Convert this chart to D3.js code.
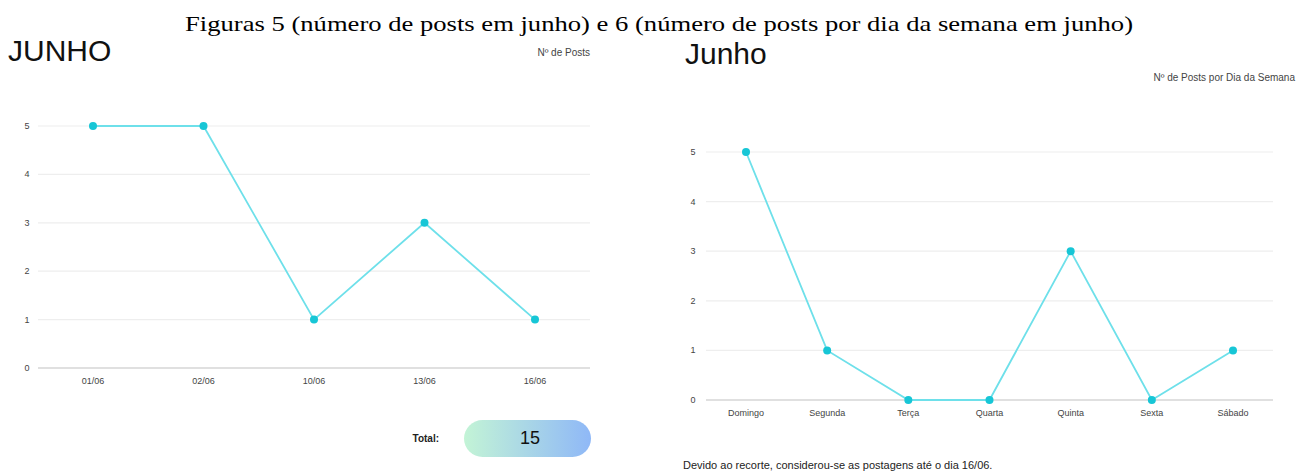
<!DOCTYPE html>
<html lang="pt">
<head>
<meta charset="utf-8">
<title>Posts em junho</title>
<script src="https://cdn.jsdelivr.net/npm/d3@7"></script>
<style>
  body { margin: 0; background: #fff; }
  .sans { font-family: "Liberation Sans", Arial, sans-serif; }
  .serif { font-family: "Liberation Serif", "Times New Roman", Times, serif; }
</style>
</head>
<body>
<script>
// data
var dates = ["01/06", "02/06", "10/06", "13/06", "16/06"];
var postsPerDate = [5, 5, 1, 3, 1];
var weekdays = ["Domingo", "Segunda", "Terça", "Quarta", "Quinta", "Sexta", "Sábado"];
var postsPerWeekday = [5, 1, 0, 0, 3, 0, 1];
var yTicks = [0, 1, 2, 3, 4, 5];
var total = 15;

var W = 1301, H = 474;
var lineColor = "#6ee0ea", dotColor = "#17c6d6";

var svg = d3.select("body").append("svg")
  .attr("width", W).attr("height", H);

// gradient for the total pill
var grad = svg.append("defs").append("linearGradient")
  .attr("id", "pill").attr("x1", "0%").attr("x2", "100%");
grad.append("stop").attr("offset", "0%").attr("stop-color", "#c3f4d6");
grad.append("stop").attr("offset", "100%").attr("stop-color", "#8fb8f7");

svg.append("text")
  .attr("class", "serif")
  .attr("x", 185).attr("y", 31)
  .attr("textLength", 948).attr("lengthAdjust", "spacingAndGlyphs")
  .style("font-size", "21px").attr("fill", "#000")
  .text("Figuras 5 (número de posts em junho) e 6 (número de posts por dia da semana em junho)");

function drawChart(cfg) {
  var g = svg.append("g").attr("class", "sans");
  var x = d3.scalePoint().domain(cfg.cats).range(cfg.xr);
  var y = d3.scaleLinear().domain([0, 5]).range(cfg.yr);

  // grid
  g.selectAll(".grid").data(yTicks).enter().append("line")
    .attr("x1", cfg.gx[0]).attr("x2", cfg.gx[1])
    .attr("y1", function(d) { return y(d); })
    .attr("y2", function(d) { return y(d); })
    .attr("stroke", function(d) { return d === 0 ? "#d6d6d6" : "#eeeeee"; })
    .attr("stroke-width", function(d) { return d === 0 ? 1.5 : 1.2; });

  g.selectAll(".ylab").data(yTicks).enter().append("text")
    .attr("x", cfg.ylx).attr("y", function(d) { return y(d) + 3; })
    .attr("text-anchor", "middle")
    .style("font-size", "9px").attr("fill", "#444")
    .text(function(d) { return d; });

  g.selectAll(".xlab").data(cfg.cats).enter().append("text")
    .attr("x", function(d) { return x(d); })
    .attr("y", y(0) + 16)
    .attr("text-anchor", "middle")
    .style("font-size", "9px").attr("fill", "#444")
    .text(function(d) { return d; });

  var pts = cfg.cats.map(function(c, i) { return [x(c), y(cfg.vals[i])]; });
  g.append("path")
    .attr("d", d3.line()(pts))
    .attr("fill", "none").attr("stroke", lineColor).attr("stroke-width", 1.8);

  g.selectAll("circle").data(pts).enter().append("circle")
    .attr("cx", function(d) { return d[0]; })
    .attr("cy", function(d) { return d[1]; })
    .attr("r", 4).attr("fill", dotColor);

  g.append("text")
    .attr("x", cfg.title[0]).attr("y", cfg.title[1])
    .style("font-size", "30px").attr("fill", "#111")
    .text(cfg.titleText);

  g.append("text")
    .attr("x", cfg.sub[0]).attr("y", cfg.sub[1])
    .attr("text-anchor", "end")
    .style("font-size", "10px").attr("fill", "#444")
    .text(cfg.subText);
}

drawChart({
  cats: dates, vals: postsPerDate,
  xr: [93, 535], yr: [368, 126], gx: [38, 590], ylx: 27,
  title: [8, 61], titleText: "JUNHO",
  sub: [590, 56], subText: "Nº de Posts"
});

drawChart({
  cats: weekdays, vals: postsPerWeekday,
  xr: [746, 1233], yr: [400, 152], gx: [706, 1273], ylx: 693,
  title: [685, 64], titleText: "Junho",
  sub: [1295, 81], subText: "Nº de Posts por Dia da Semana"
});

// total pill
var foot = svg.append("g").attr("class", "sans");
foot.append("text")
  .attr("x", 439).attr("y", 442).attr("text-anchor", "end")
  .style("font-size", "10px").style("font-weight", "bold").attr("fill", "#222")
  .text("Total:");
foot.append("rect")
  .attr("x", 464).attr("y", 420).attr("width", 127).attr("height", 37)
  .attr("rx", 18.5).attr("fill", "url(#pill)");
foot.append("text")
  .attr("x", 530).attr("y", 444).attr("text-anchor", "middle")
  .style("font-size", "18px").attr("fill", "#111")
  .text(total);

foot.append("text")
  .attr("x", 683).attr("y", 469)
  .style("font-size", "11px").attr("fill", "#222")
  .text("Devido ao recorte, considerou-se as postagens até o dia 16/06.");
</script>
</body>
</html>
